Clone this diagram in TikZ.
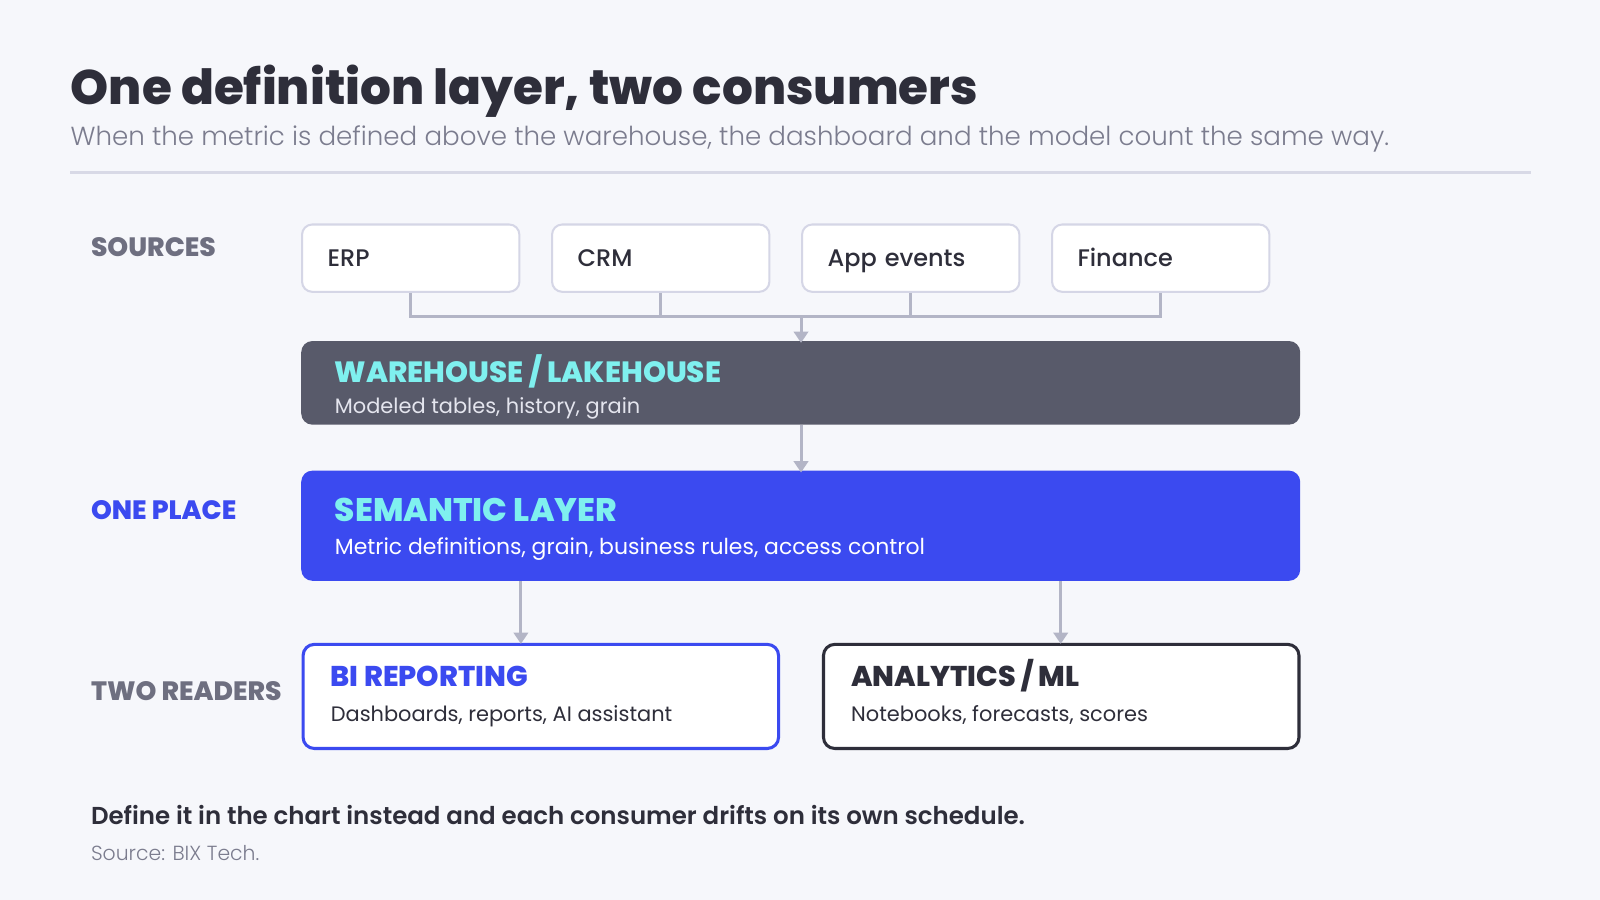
\documentclass[tikz,border=0pt]{standalone}
\usepackage{fontspec}
\setmainfont{Poppins}
\newfontfamily\fxb{Poppins ExtraBold}
\newfontfamily\fb{Poppins Bold}
\newfontfamily\fsb{Poppins SemiBold}
\newfontfamily\fm{Poppins Medium}
\newfontfamily\fl{Poppins Light}
\usetikzlibrary{arrows.meta,calc}
\definecolor{bg}{HTML}{F6F7FB}
\definecolor{ink}{HTML}{2E2E3A}
\definecolor{subgray}{HTML}{7B7C8E}
\definecolor{labgray}{HTML}{6E6F80}
\definecolor{rulec}{HTML}{D8D9E6}
\definecolor{srcb}{HTML}{D5D6E6}
\definecolor{conn}{HTML}{B3B5C6}
\definecolor{whc}{HTML}{585A6A}
\definecolor{bluec}{HTML}{3B4AF0}
\definecolor{cyanc}{HTML}{7FF0EF}
\definecolor{whsub}{HTML}{E4E5EE}
\tikzset{
  txt/.style={inner sep=0pt, anchor=base west},
  srcbox/.style={draw=srcb, line width=2pt, fill=white, rounded corners=10pt,
    minimum width=213pt, minimum height=66pt, text width=163pt, inner xsep=25pt,
    align=left, text height=16pt, text depth=0pt, anchor=north west, text=ink,
    font=\fm\fontsize{23.5}{27}\selectfont},
  layerbox/.style={rounded corners=11pt, anchor=north west, inner sep=0pt},
  readbox/.style={rounded corners=11pt, anchor=north west, inner sep=0pt,
    line width=3pt, fill=white, minimum width=466pt, minimum height=102pt},
  conline/.style={draw=conn, line width=3pt},
  arr/.style={conline, -{Triangle[width=14pt,length=11pt]}, shorten >=-2pt}
}
\begin{document}
\begin{tikzpicture}[x=1pt,y=-1pt]
\useasboundingbox[fill=bg] (0,0) rectangle (1568,882);
% header
\node[txt, text=ink, font=\fxb\fontsize{47.5}{56}\selectfont] (title) at (69,102) {One definition layer, two consumers};
\node[txt, text=subgray, font=\fl\fontsize{25.6}{32}\selectfont] (subtitle) at (69,143) {When the metric is defined above the warehouse, the dashboard and the model count the same way.};
\coordinate (ruleL) at (69,169);
\coordinate (ruleR) at (1500,169);
\draw[draw=rulec, line width=3pt] (ruleL) -- (ruleR);
% row labels
\node[txt, text=labgray, font=\fxb\fontsize{26}{30}\selectfont] (lsrc) at (89,251) {SOURCES};
\node[txt, text=bluec, font=\fxb\fontsize{26}{30}\selectfont] (lone) at (89,509.5) {ONE PLACE};
\node[txt, text=labgray, font=\fxb\fontsize{26}{30}\selectfont] (ltwo) at (89,686.5) {TWO READERS};
% sources
\node[srcbox] (erp) at (295,219) {ERP};
\node[srcbox] (crm) at (540,219) {CRM};
\node[srcbox] (app) at (785,219) {App events};
\node[srcbox] (fin) at (1030,219) {Finance};
% warehouse
\node[layerbox, fill=whc, minimum width=979pt, minimum height=82pt] (wh) at (295,334) {};
\node[txt, text=cyanc, font=\fxb\fontsize{28.7}{34}\selectfont] (whT) at (328,374.5) {WAREHOUSE / LAKEHOUSE};
\node[txt, text=whsub, font=\fontsize{20.5}{25}\selectfont] (whS) at (328,405) {Modeled tables, history, grain};
% semantic
\node[layerbox, fill=bluec, minimum width=979pt, minimum height=108pt] (sem) at (295,461) {};
\node[txt, text=cyanc, font=\fxb\fontsize{32}{38}\selectfont] (semT) at (328,511) {SEMANTIC LAYER};
\node[txt, text=white, font=\fontsize{21.5}{26}\selectfont] (semS) at (328,543) {Metric definitions, grain, business rules, access control};
% readers
\node[readbox, draw=bluec] (bi) at (295.5,630) {};
\node[txt, text=bluec, font=\fxb\fontsize{28}{33}\selectfont] (biT) at (324,673) {BI REPORTING};
\node[txt, text=ink, font=\fontsize{20.5}{25}\selectfont] (biS) at (324,707) {Dashboards, reports, AI assistant};
\node[readbox, draw=ink] (ml) at (805.5,630) {};
\node[txt, text=ink, font=\fxb\fontsize{28}{33}\selectfont] (mlT) at (834,673) {ANALYTICS / ML};
\node[txt, text=ink, font=\fontsize{20.5}{25}\selectfont] (mlS) at (834,707) {Notebooks, forecasts, scores};
% connectors
\coordinate (jn) at (785,310);
\draw[conline] (erp.south) |- (jn);
\draw[conline] (fin.south) |- (jn);
\draw[conline] (crm.south) -- (crm.south |- jn);
\draw[conline] (app.south) -- (app.south |- jn);
\draw[arr] (jn) -- (jn |- wh.north);
\draw[arr] (jn |- wh.south) -- (jn |- sem.north);
\coordinate (biIn) at (510.5,629);
\coordinate (mlIn) at (1039.5,629);
\draw[arr] (biIn |- sem.south) -- (biIn);
\draw[arr] (mlIn |- sem.south) -- (mlIn);
% footer
\node[txt, text=ink, font=\fsb\fontsize{24}{29}\selectfont] (foot) at (89,808) {Define it in the chart instead and each consumer drifts on its own schedule.};
\node[txt, text=subgray, font=\fl\fontsize{20}{24}\selectfont] (srcnote) at (89,843) {Source: BIX Tech.};
\end{tikzpicture}
\end{document}
